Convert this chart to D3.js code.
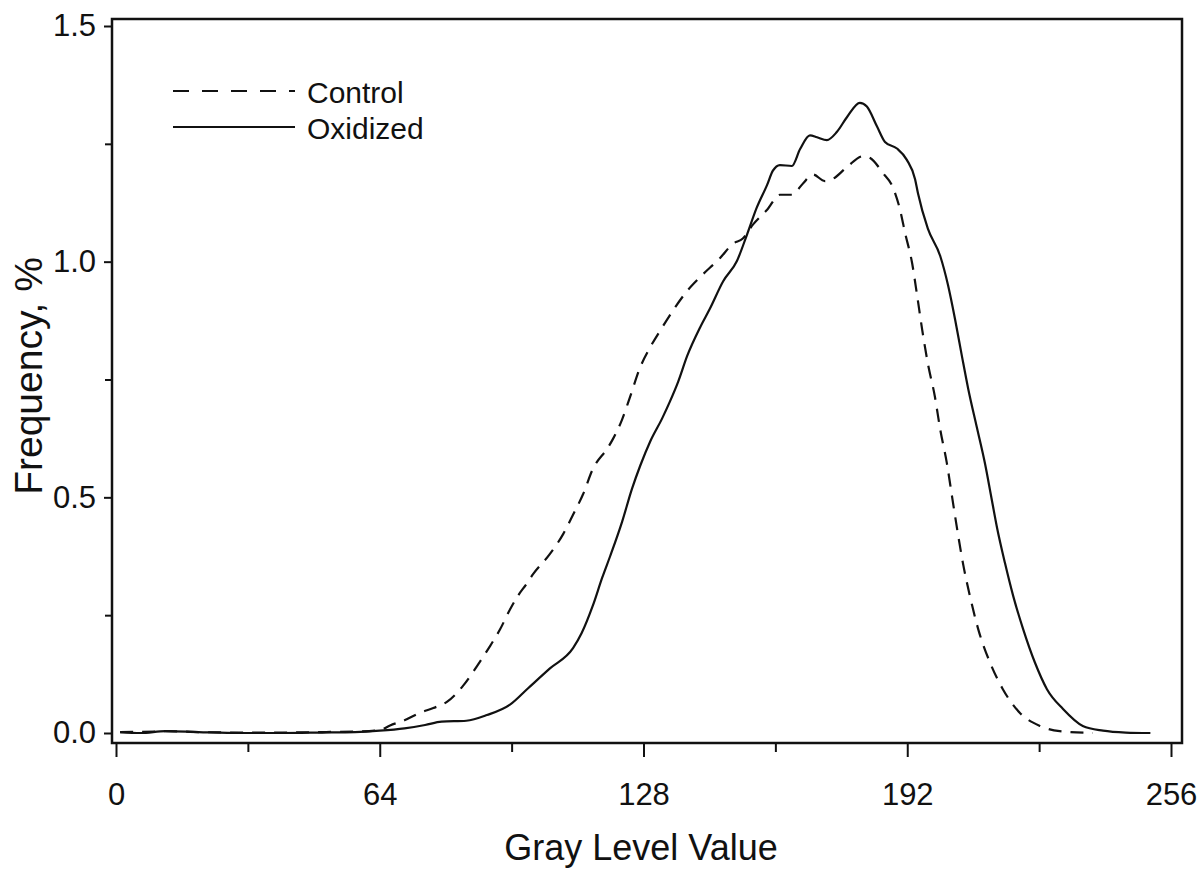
<!DOCTYPE html>
<html>
<head>
<meta charset="utf-8">
<script src="https://cdn.jsdelivr.net/npm/d3@7"></script>
<style>
  html, body { margin: 0; padding: 0; background: #fff; }
  svg { display: block; font-family: "Liberation Sans", Arial, Helvetica, sans-serif; }
</style>
</head>
<body>
<svg id="chart" width="1199" height="870"></svg>
<script>
// ---- Data ----
const controlGray = [1, 10, 12, 20, 30, 40, 50, 58, 64, 66.5, 70, 73.8, 77, 80.3, 84.2, 87.6, 90.8, 93.2, 95.6, 97.6, 99.5, 101.2, 105.3, 108.5, 110.9, 113.3, 115.7, 119.4, 120.6, 122.8, 124.7, 127.2, 129.6, 132.5, 135.2, 138.6, 141.7, 146.6, 149.7, 152.1, 154.6, 158, 161.1, 164, 166.7, 169.1, 172, 174, 177.4, 181.3, 183, 186.1, 188.5, 190.2, 191.5, 193.2, 194.4, 195.6, 197, 198.7, 200, 201.6, 202.9, 204.1, 205.5, 207.2, 209.2, 212.1, 215.2, 219.4, 224.2, 229, 237];
const controlFreq = [0.002, 0.003, 0.004, 0.002, 0.001, 0.001, 0.002, 0.003, 0.006, 0.016, 0.027, 0.043, 0.053, 0.066, 0.100, 0.142, 0.185, 0.220, 0.262, 0.292, 0.315, 0.337, 0.380, 0.422, 0.463, 0.506, 0.560, 0.606, 0.624, 0.665, 0.712, 0.776, 0.818, 0.860, 0.897, 0.938, 0.967, 1.008, 1.038, 1.049, 1.079, 1.110, 1.142, 1.142, 1.166, 1.185, 1.171, 1.176, 1.201, 1.224, 1.220, 1.188, 1.158, 1.112, 1.060, 0.996, 0.928, 0.857, 0.784, 0.714, 0.644, 0.573, 0.500, 0.433, 0.361, 0.291, 0.221, 0.149, 0.093, 0.042, 0.015, 0.004, 0.000];

const oxidizedGray = [1, 6, 12, 20, 30, 40, 50, 58, 64, 70, 75, 79, 85, 90, 95.6, 100, 105.3, 110.9, 113, 115.7, 118, 119.9, 122.8, 125.2, 127.2, 129.6, 132.5, 134.4, 136.4, 138.6, 141.7, 144.1, 147.3, 150.7, 153.1, 155.5, 158, 159.4, 161.1, 164, 166, 168.4, 170.1, 172.5, 174.9, 177.4, 180.5, 182.2, 184.7, 186.6, 189.5, 191.9, 193.9, 194.6, 197, 200, 201.9, 203.6, 205.3, 206.8, 208.9, 210.9, 212.3, 213.8, 215.7, 217.7, 220.1, 223, 225.9, 229.8, 234.6, 239.5, 245, 251];
const oxidizedFreq = [0.002, 0.000, 0.004, 0.002, 0.000, 0.000, 0.001, 0.002, 0.005, 0.010, 0.017, 0.024, 0.026, 0.038, 0.060, 0.095, 0.137, 0.180, 0.212, 0.270, 0.330, 0.375, 0.448, 0.518, 0.567, 0.618, 0.667, 0.703, 0.745, 0.800, 0.860, 0.900, 0.958, 1.002, 1.057, 1.115, 1.163, 1.193, 1.205, 1.203, 1.239, 1.268, 1.264, 1.258, 1.275, 1.307, 1.337, 1.329, 1.286, 1.254, 1.240, 1.216, 1.175, 1.145, 1.070, 1.012, 0.950, 0.878, 0.798, 0.730, 0.648, 0.570, 0.505, 0.435, 0.361, 0.291, 0.221, 0.149, 0.093, 0.051, 0.015, 0.005, 0.001, 0.000];

const xMajorTicks = [0, 64, 128, 192, 256];
const xMinorTicks = [32, 96, 160, 224];
const yMajorTicks = [0.0, 0.5, 1.0, 1.5];
const yMinorTicks = [0.25, 0.75, 1.25];
const seriesNames = ["Control", "Oxidized"];
const xTitle = "Gray Level Value";
const yTitle = "Frequency, %";

// ---- Layout ----
const svg = d3.select("#chart");
const frame = { left: 112, right: 1182, top: 19, bottom: 743 };
const x = d3.scaleLinear().domain([0, 256]).range([116, 1171]);
const y = d3.scaleLinear().domain([0, 1.5]).range([733, 26]);

const ink = "#111";

// Frame
svg.append("rect")
  .attr("x", frame.left).attr("y", frame.top)
  .attr("width", frame.right - frame.left)
  .attr("height", frame.bottom - frame.top)
  .attr("fill", "none").attr("stroke", ink).attr("stroke-width", 2.5);

// X axis (ticks below the bottom frame edge)
const xAxisMajor = d3.axisBottom(x).tickValues(xMajorTicks).tickSize(14).tickPadding(26).tickFormat(d3.format("d"));
const gx = svg.append("g").attr("transform", `translate(0,${frame.bottom})`).call(xAxisMajor);
gx.select(".domain").remove();
gx.selectAll(".tick line").attr("stroke", ink).attr("stroke-width", 2);
gx.selectAll(".tick text").attr("font-size", 31).attr("fill", ink)
  .attr("font-family", "'Liberation Sans', Arial, sans-serif");

const xAxisMinor = d3.axisBottom(x).tickValues(xMinorTicks).tickSize(9).tickFormat("");
const gxm = svg.append("g").attr("transform", `translate(0,${frame.bottom})`).call(xAxisMinor);
gxm.select(".domain").remove();
gxm.selectAll(".tick line").attr("stroke", ink).attr("stroke-width", 2);

// Y axis (ticks left of the frame)
const yAxisMajor = d3.axisLeft(y).tickValues(yMajorTicks).tickSize(8).tickPadding(8).tickFormat(d3.format(".1f"));
const gy = svg.append("g").attr("transform", `translate(${frame.left},0)`).call(yAxisMajor);
gy.select(".domain").remove();
gy.selectAll(".tick line").attr("stroke", ink).attr("stroke-width", 2);
gy.selectAll(".tick text").attr("font-size", 31).attr("fill", ink)
  .attr("font-family", "'Liberation Sans', Arial, sans-serif");

const yAxisMinor = d3.axisLeft(y).tickValues(yMinorTicks).tickSize(7).tickFormat("");
const gym = svg.append("g").attr("transform", `translate(${frame.left},0)`).call(yAxisMinor);
gym.select(".domain").remove();
gym.selectAll(".tick line").attr("stroke", ink).attr("stroke-width", 2);

// Axis titles
svg.append("text")
  .attr("x", 641).attr("y", 860)
  .attr("text-anchor", "middle")
  .attr("font-size", 36).attr("fill", ink)
  .text(xTitle);

svg.append("text")
  .attr("transform", "translate(42,376) rotate(-90)")
  .attr("text-anchor", "middle")
  .attr("font-size", 39).attr("fill", ink)
  .text(yTitle);

// Curves
const line = d3.line().x(d => x(d[0])).y(d => y(d[1])).curve(d3.curveMonotoneX);
const controlData = d3.zip(controlGray, controlFreq);
const oxidizedData = d3.zip(oxidizedGray, oxidizedFreq);

svg.append("path").datum(oxidizedData)
  .attr("d", line).attr("fill", "none")
  .attr("stroke", ink).attr("stroke-width", 2.2);

svg.append("path").datum(controlData)
  .attr("d", line).attr("fill", "none")
  .attr("stroke", ink).attr("stroke-width", 2.2)
  .attr("stroke-dasharray", "13,9");

// Legend
const legend = svg.append("g");
const legendRows = [
  { name: seriesNames[0], y: 91, dash: "16,13", textY: 103 },
  { name: seriesNames[1], y: 127, dash: null, textY: 139 }
];
legendRows.forEach(r => {
  legend.append("line")
    .attr("x1", 173).attr("x2", 295).attr("y1", r.y).attr("y2", r.y)
    .attr("stroke", ink).attr("stroke-width", 2)
    .attr("stroke-dasharray", r.dash);
  legend.append("text")
    .attr("x", 307).attr("y", r.textY)
    .attr("font-size", 30).attr("fill", ink)
    .text(r.name);
});
</script>
</body>
</html>
